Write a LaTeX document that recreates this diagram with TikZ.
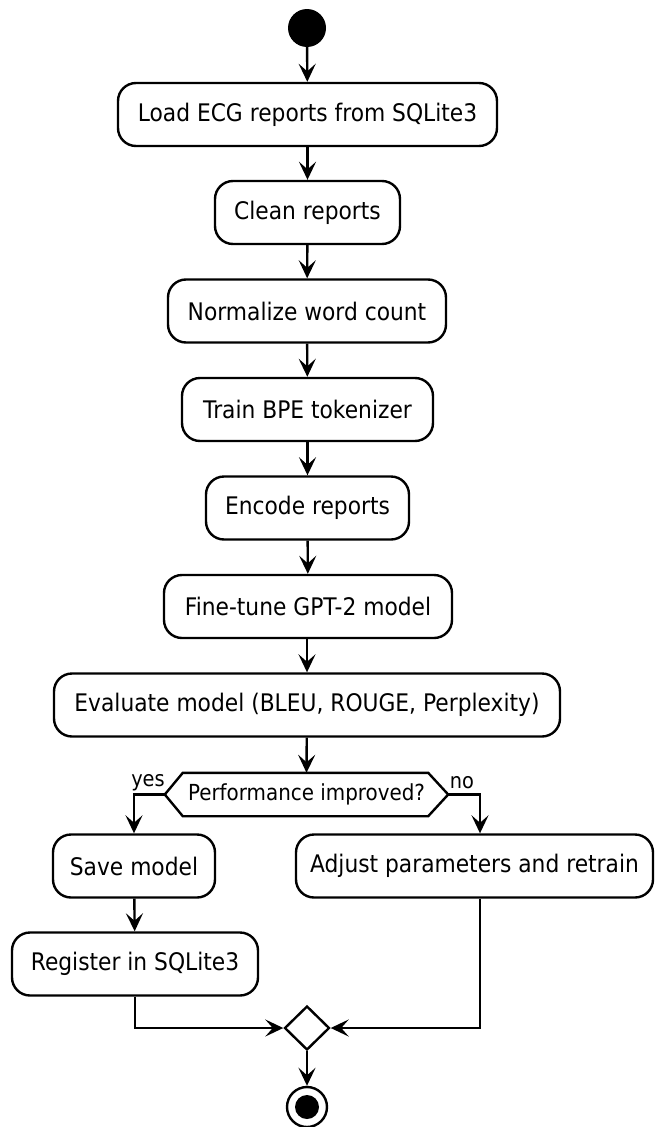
\documentclass[tikz,border=0pt]{standalone}
\usepackage{fontspec}
\setmainfont{DejaVu Sans}[FakeStretch=0.9]
\usetikzlibrary{arrows.meta,shapes.geometric}
\begin{document}
\begin{tikzpicture}[x=1pt,y=-1pt,
  line/.style={line width=2.4pt},
  flow/.style={line, -{Stealth[length=18pt,width=17pt,inset=7.5pt]}},
  act/.style={draw, line width=2.4pt, rounded corners=18pt, inner sep=0pt,
    minimum height=63pt, fill=white, font=\fontsize{24.2}{28}\selectfont},
  dectext/.style={inner sep=0pt, minimum width=283pt, minimum height=43pt,
    font=\fontsize{22.1}{26}\selectfont},
  lbl/.style={inner sep=0pt, font=\fontsize{21.5}{26}\selectfont},
]
\fill[white] (0,0) rectangle (654,1127);
\useasboundingbox (0,0) rectangle (654,1127);

% start and main sequence of actions
\node[circle, fill=black, minimum size=38pt, inner sep=0pt] (start) at (307,28) {};
\node[act, minimum width=379pt] (load)  at (307.5,114.5) {Load ECG reports from SQLite3};
\node[act, minimum width=185pt] (clean) at (307.5,212.5) {Clean reports};
\node[act, minimum width=278pt] (norm)  at (307,311)     {Normalize word count};
\node[act, minimum width=251pt] (bpe)   at (307.5,409.5) {Train BPE tokenizer};
\node[act, minimum width=203pt] (enc)   at (307.5,508)   {Encode reports};
\node[act, minimum width=288pt] (tune)  at (308,606.5)   {Fine-tune GPT-2 model};
\node[act, minimum width=506pt] (eval)  at (307,705)     {Evaluate model (BLEU, ROUGE, Perplexity)};

% decision
\node[dectext] (dec) at (306.5,794.5) {};
\draw[line, fill=white] (dec.west) -- ([xshift=18pt]dec.north west)
  -- ([xshift=-20pt]dec.north east) -- (dec.east)
  -- ([xshift=-20pt]dec.south east) -- ([xshift=18pt]dec.south west) -- cycle;
\node[dectext, minimum width=0pt, minimum height=0pt] (dectxt) at (dec) {Performance improved?};
\node[lbl] (yes) at (148,783) {yes};
\node[lbl] (no)  at (462,783) {no};

% branches
\node[act, minimum width=162pt] (save) at (134,866)   {Save model};
\node[act, minimum width=246pt] (reg)  at (135,964)   {Register in SQLite3};
\node[act, minimum width=357pt] (adj)  at (474.5,866) {Adjust parameters and retrain};

% merge and end
\node[diamond, draw, line, aspect=1, minimum width=45pt, minimum height=44pt,
  inner sep=0pt, fill=white] (merge) at (307,1028) {};
\node[circle, draw, line, minimum size=40pt, inner sep=0pt] (stop) at (307,1107) {};
\fill (stop.center) circle (12pt);

% connectors
\draw[flow] (start) -- (load);
\draw[flow] (load) -- (clean);
\draw[flow] (clean) -- (norm);
\draw[flow] (norm) -- (bpe);
\draw[flow] (bpe) -- (enc);
\draw[flow] (enc) -- (tune);
\draw[flow] ([xshift=-1pt]tune.south) -- (eval);
\draw[flow] (eval) -- (dec.north);
\draw[flow] (dec.west) -| (save.north);
\draw[flow] (dec.east) -| ([xshift=5.5pt]adj.north);
\draw[flow] (save) -- (reg);
\draw[flow] (reg.south) |- (merge.west);
\draw[flow] ([xshift=5.5pt]adj.south) |- (merge.east);
\draw[flow] (merge) -- (stop);
\end{tikzpicture}
\end{document}
